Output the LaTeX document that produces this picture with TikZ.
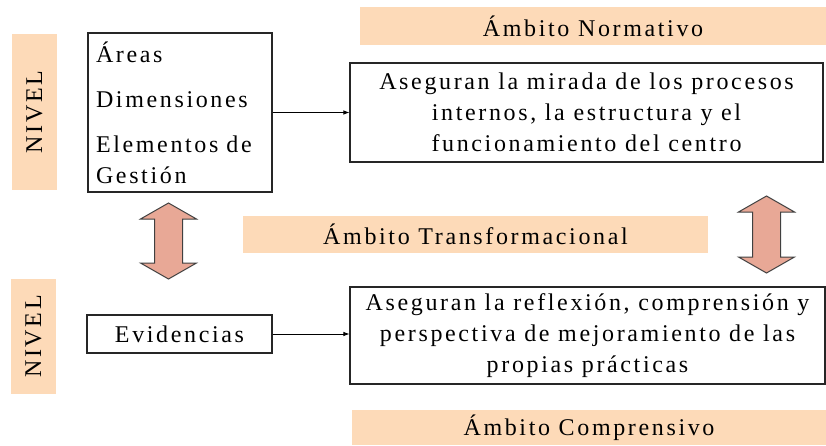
\documentclass[tikz,border=0pt]{standalone}
\usepackage{fontspec}
\setmainfont{Liberation Serif}[LetterSpace=11]
\usepackage{tikz}
\usetikzlibrary{arrows.meta}
\definecolor{banner}{RGB}{253,218,184}
\definecolor{arrowfill}{RGB}{232,168,150}

\begin{document}
\begin{tikzpicture}[x=1pt, y=-1pt,
    box/.style={draw=black!85, line width=1.1pt, fill=white, inner sep=0pt},
    banner/.style={fill=banner, inner sep=0pt},
    txt/.style={font=\fontsize{24}{31}\selectfont},
    link/.style={-{Latex[length=6pt,width=4.5pt]}, line width=0.8pt},
    twoway/.style={draw=black!75, line width=1pt, fill=arrowfill}]
    \useasboundingbox (0,0) rectangle (826,445);

    % Banners
    \node[banner, txt, minimum width=466pt, minimum height=38pt] (normativo) at (593,26) {Ámbito Normativo};
    \node[banner, txt, minimum width=465pt, minimum height=37pt] (transform) at (475.5,234.5) {Ámbito Transformacional};
    \node[banner, txt, minimum width=474pt, minimum height=35pt] (comprens) at (589,427.5) {Ámbito Comprensivo};
    \node[banner, txt, rotate=90, minimum width=156pt, minimum height=45pt] (nivelA) at (34.5,112) {NIVEL};
    \node[banner, txt, rotate=90, minimum width=115pt, minimum height=45pt] (nivelB) at (33.5,336.5) {NIVEL};

    % Boxes
    \node[box, txt, minimum width=184pt, minimum height=159pt, text width=168pt, align=left] (areas) at (180,112.5) {Áreas\\[14pt] Dimensiones\\[14pt] Elementos de\\ Gestión};
    \node[box, txt, minimum width=473pt, minimum height=99pt, align=center] (mirada) at (586.5,112.5) {Aseguran la mirada de los procesos\\ internos, la estructura y el\\ funcionamiento del centro};
    \node[box, txt, minimum width=185pt, minimum height=38pt] (evid) at (179.5,334) {Evidencias};
    \node[box, txt, minimum width=475pt, minimum height=97pt, align=center] (reflex) at (587.5,335.5) {Aseguran la reflexión, comprensión y\\ perspectiva de mejoramiento de las\\ propias prácticas};

    % Links
    \draw[link] (areas.east) -- (mirada.west);
    \draw[link] (evid.east) -- (evid.east -| reflex.west);

    % Double arrows
    \foreach \x/\yt/\yb in {168.5/203/279, 766.5/196/273} {
        \draw[twoway] (\x,\yt) -- (\x+28,\yt+16) -- (\x+14,\yt+16) -- (\x+14,\yb-16) -- (\x+28,\yb-16) -- (\x,\yb)
            -- (\x-28,\yb-16) -- (\x-14,\yb-16) -- (\x-14,\yt+16) -- (\x-28,\yt+16) -- cycle;
    }

\end{tikzpicture}
\end{document}
